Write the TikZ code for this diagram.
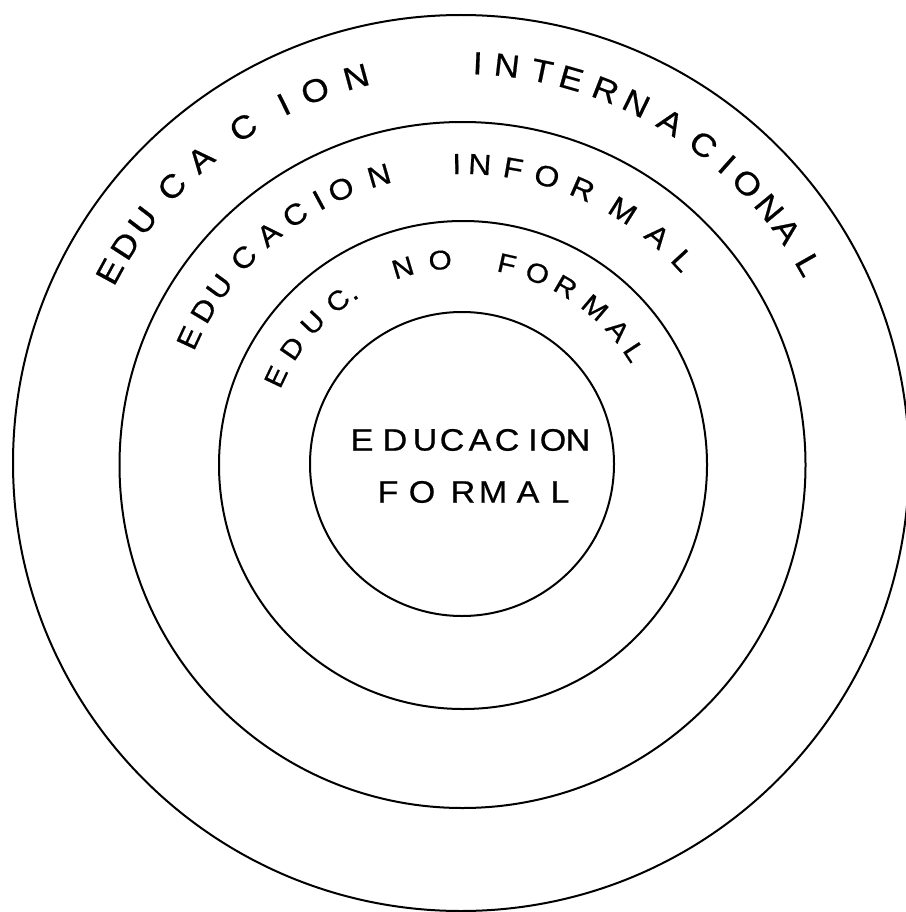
\documentclass[tikz,border=0pt]{standalone}
\usepackage{fontspec}
\setmainfont{Liberation Sans}
\newfontfamily\lettering[FakeStretch=1.1,FakeBold=0.6]{Liberation Sans}
\begin{document}
\begin{tikzpicture}[x=1pt,y=1pt,
  ring/.style={line width=2pt},
  letterA/.style={font=\lettering\fontsize{32}{32}\selectfont, inner sep=0pt},
  letterB/.style={font=\lettering\fontsize{29}{29}\selectfont, inner sep=0pt},
  letterC/.style={font=\lettering\fontsize{27}{27}\selectfont, inner sep=0pt},
  letterD/.style={font=\lettering\fontsize{31}{31}\selectfont, inner sep=0pt}]
\useasboundingbox (0,0) rectangle (905,-912);
\fill[white] (0,0) rectangle (905,-912);
% circles
\draw[ring] (461,-463) circle[radius=448];
\draw[ring] (462.5,-465) circle[radius=343];
\draw[ring] (463,-465) circle[radius=244];
\draw[ring] (462,-464) circle[radius=152];
% outer ring text
\begin{scope}[shift={(461,-463)}]
\foreach \ang/\ch [count=\i] in {151.4/E,147.1/D,142.7/U,136.3/C,130.6/A,123/C,116.3/I,111.4/O,105.2/N,
  87.6/I,83.4/N,78.3/T,74/E,68.8/R,64/N,58.4/A,52.7/C,48.3/I,44.3/O,39.6/N,35.5/A,29.7/L}
  \node[letterA, rotate=\ang-90] (oa\i) at (\ang:400) {\ch};
\end{scope}
% second ring text
\begin{scope}[shift={(462,-465)}]
\foreach \ang/\ch [count=\i] in {155/E,149.1/D,143.7/U,136.5/C,129.9/A,123.7/C,118.4/I,113.7/O,106/N,
  91/I,86.6/N,80.2/F,73.6/O,66.4/R,57.7/M,49.5/A,42.8/L}
  \node[letterB, rotate=\ang-90] (ob\i) at (\ang:301) {\ch};
\end{scope}
% third ring text
\begin{scope}[shift={(462,-465)}]
\foreach \ang/\ch [count=\i] in {154.6/E,145.5/D,136.4/U,127.1/C,106.7/N,96.1/O,
  77.4/F,68.5/O,59.8/R,49.8/M,40.8/A,33.2/L}
  \node[letterC, rotate=\ang-90] (oc\i) at (\ang:206) {\ch};
\node[letterC, rotate=32.4] (ocdot) at (122.4:198) {.};
\end{scope}
% centre text
\foreach \x/\ch [count=\i] in {362/E,395/D,425/U,452/C,480/A,507/C,533/I,553/O,578/N}
  \node[letterD] (cd\i) at (\x,-440) {\ch};
\foreach \x/\ch [count=\i] in {388/F,422/O,463/R,493/M,528/A,560/L}
  \node[letterD] (ce\i) at (\x,-492) {\ch};
\end{tikzpicture}
\end{document}
